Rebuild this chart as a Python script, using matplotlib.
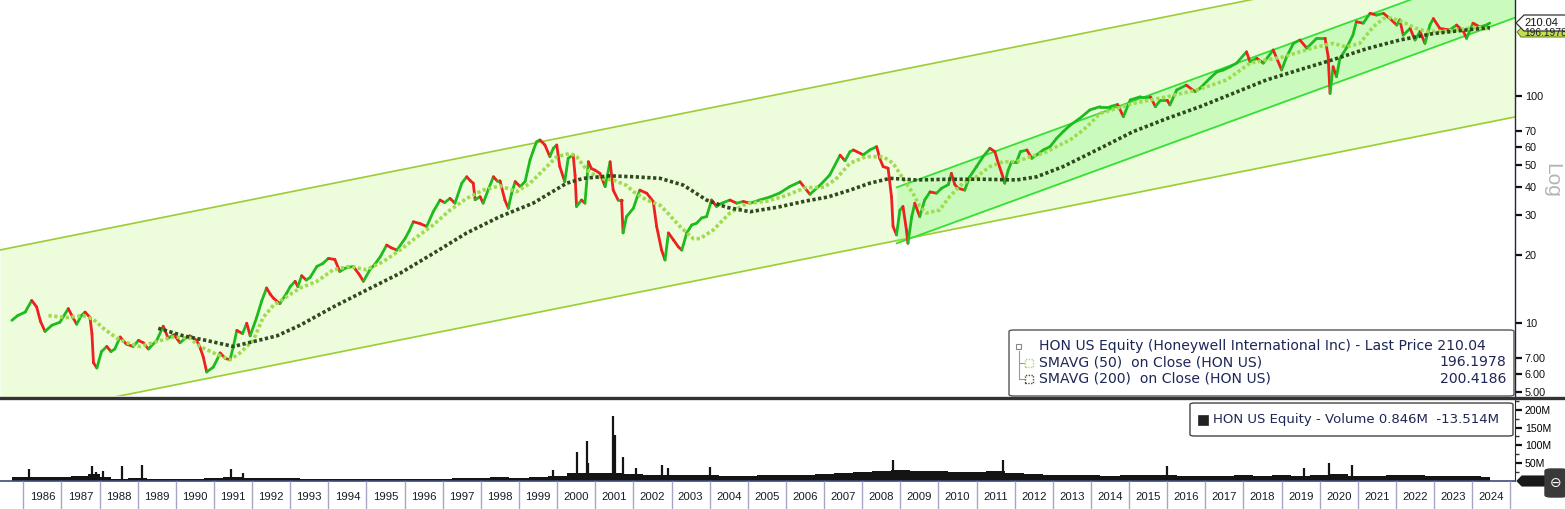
import numpy as np
import matplotlib
matplotlib.use("Agg")
import matplotlib.pyplot as plt
from matplotlib.collections import LineCollection
from matplotlib.patches import Rectangle, FancyBboxPatch, Polygon
from matplotlib.lines import Line2D
from matplotlib.ticker import FixedLocator, NullLocator

plt.rcParams['font.family'] = ['Liberation Sans', 'DejaVu Sans']

# ---------------- data ----------------
price_dates = [
    1985.70, 1985.85, 1986.05, 1986.22, 1986.35, 1986.45, 1986.57, 1986.75, 1986.96,
    1987.18, 1987.30, 1987.40, 1987.52, 1987.62, 1987.75, 1987.80, 1987.84, 1987.93,
    1988.05, 1988.19, 1988.30, 1988.40, 1988.54, 1988.70, 1988.88, 1989.02, 1989.15,
    1989.28, 1989.50, 1989.67, 1989.80, 1989.95, 1990.11, 1990.25, 1990.37, 1990.55,
    1990.65, 1990.72, 1990.81, 1990.98, 1991.08, 1991.16, 1991.30, 1991.42, 1991.51,
    1991.60, 1991.75, 1991.86, 1991.95, 1992.12, 1992.25, 1992.38, 1992.48, 1992.56,
    1992.73, 1992.91, 1993.00, 1993.13, 1993.20, 1993.30, 1993.42, 1993.52, 1993.70,
    1993.85, 1994.00, 1994.17, 1994.30, 1994.45, 1994.65, 1994.80, 1994.92, 1995.09,
    1995.22, 1995.36, 1995.53, 1995.65, 1995.80, 1996.01, 1996.12, 1996.23, 1996.40,
    1996.58, 1996.75, 1996.93, 1997.05, 1997.19, 1997.32, 1997.50, 1997.63, 1997.72,
    1997.80, 1997.85, 1997.98, 1998.06, 1998.20, 1998.33, 1998.42, 1998.50, 1998.63,
    1998.72, 1998.80, 1998.90, 1999.03, 1999.16, 1999.29, 1999.38, 1999.46, 1999.55,
    1999.68, 1999.81, 1999.90, 1999.99, 2000.07, 2000.20, 2000.29, 2000.42, 2000.47,
    2000.51, 2000.64, 2000.73, 2000.82, 2000.90, 2000.99, 2001.12, 2001.26, 2001.39,
    2001.47, 2001.60, 2001.69, 2001.73, 2001.82, 2002.00, 2002.10, 2002.17, 2002.35,
    2002.52, 2002.61, 2002.74, 2002.83, 2002.92, 2003.05, 2003.18, 2003.27, 2003.40,
    2003.53, 2003.66, 2003.79, 2003.92, 2004.05, 2004.18, 2004.32, 2004.53, 2004.71,
    2004.88, 2005.06, 2005.31, 2005.58, 2005.84, 2006.10, 2006.37, 2006.63, 2006.89,
    2007.15, 2007.42, 2007.55, 2007.68, 2007.77, 2008.03, 2008.20, 2008.38, 2008.46,
    2008.55, 2008.68, 2008.77, 2008.81, 2008.90, 2008.99, 2009.07, 2009.16, 2009.20,
    2009.30, 2009.38, 2009.51, 2009.64, 2009.78, 2009.95, 2010.08, 2010.26, 2010.34,
    2010.43, 2010.52, 2010.69, 2010.82, 2011.00, 2011.17, 2011.35, 2011.48, 2011.57,
    2011.66, 2011.74, 2011.83, 2011.92, 2012.05, 2012.15, 2012.32, 2012.45, 2012.58,
    2012.75, 2012.93, 2013.10, 2013.27, 2013.45, 2013.71, 2013.97, 2014.10, 2014.24,
    2014.50, 2014.70, 2014.85, 2015.03, 2015.30, 2015.56, 2015.69, 2015.82, 2016.00,
    2016.07, 2016.25, 2016.50, 2016.73, 2016.86, 2017.12, 2017.30, 2017.47, 2017.65,
    2017.82, 2018.08, 2018.17, 2018.35, 2018.52, 2018.78, 2019.00, 2019.13, 2019.31,
    2019.48, 2019.66, 2019.92, 2020.14, 2020.22, 2020.27, 2020.35, 2020.44, 2020.53,
    2020.70, 2020.87, 2020.96, 2021.14, 2021.32, 2021.49, 2021.67, 2021.84, 2022.02,
    2022.10, 2022.19, 2022.37, 2022.50, 2022.63, 2022.76, 2022.89, 2022.98, 2023.15,
    2023.41, 2023.59, 2023.77, 2023.85, 2024.02, 2024.20, 2024.37, 2024.46,
]
price_close = [
    10.3, 10.8, 11.2, 12.6, 11.8, 10.2, 9.2, 9.8, 10.1,
    11.6, 10.6, 9.9, 10.8, 11.2, 10.6, 9.0, 6.7, 6.35,
    7.5, 7.9, 7.5, 7.7, 8.7, 8.1, 7.9, 8.4, 8.2,
    7.7, 8.4, 9.7, 8.6, 8.9, 8.2, 8.6, 8.8, 8.4,
    7.7, 7.1, 6.1, 6.4, 6.9, 7.4, 7.0, 6.9, 7.9,
    9.3, 9.0, 10.0, 8.8, 10.6, 12.5, 14.3, 13.4, 12.9,
    12.2, 13.6, 14.5, 15.3, 14.5, 16.2, 15.5, 15.9, 17.8,
    18.3, 19.3, 19.1, 16.9, 17.5, 17.8, 16.5, 15.3, 17.2,
    18.2, 19.6, 22.1, 21.5, 21.0, 23.6, 25.5, 28.0, 27.5,
    26.7, 31.0, 34.9, 34.0, 35.5, 33.8, 41.4, 44.2, 42.5,
    41.4, 35.0, 36.1, 33.8, 39.0, 44.2, 42.5, 42.5, 34.9,
    32.1, 37.0, 42.1, 40.0, 42.1, 52.4, 58.0, 63.0, 64.2,
    61.0, 54.2, 59.0, 61.0, 49.0, 42.1, 53.3, 55.2, 45.0,
    32.7, 34.9, 33.8, 51.5, 48.0, 47.3, 45.8, 40.0, 51.5,
    38.6, 34.9, 34.9, 25.0, 29.5, 32.1, 36.0, 38.6, 37.4,
    34.4, 26.7, 21.0, 19.0, 25.0, 23.3, 21.7, 21.0, 25.0,
    27.1, 27.6, 29.1, 29.5, 34.9, 32.7, 33.8, 34.9, 33.8,
    34.4, 33.8, 34.9, 36.0, 37.5, 40.0, 42.0, 37.0, 40.5,
    45.0, 55.0, 52.0, 57.0, 58.0, 55.2, 58.0, 60.0, 53.3,
    49.0, 48.2, 36.0, 26.7, 24.5, 31.5, 32.7, 25.8, 22.5,
    29.5, 33.8, 29.5, 34.9, 37.9, 37.4, 39.3, 40.8, 45.8,
    40.8, 39.3, 38.6, 44.2, 49.0, 54.2, 59.0, 57.0, 50.7,
    45.8, 41.4, 47.3, 51.5, 51.5, 57.0, 58.0, 53.3, 55.2,
    58.0, 60.0, 65.3, 69.8, 74.5, 80.0, 87.0, 88.5, 90.0,
    90.0, 92.0, 81.3, 96.3, 99.6, 99.6, 90.0, 96.0, 96.0,
    91.6, 106.6, 112.0, 104.8, 108.5, 120.0, 128.0, 130.6, 135.0,
    140.0, 157.0, 142.0, 147.0, 140.0, 160.0, 130.6, 149.0, 171.0,
    177.0, 163.0, 180.0, 180.0, 150.0, 103.0, 135.0, 122.0, 147.0,
    163.0, 186.0, 213.0, 210.0, 232.0, 228.0, 232.0, 220.0, 206.0,
    217.0, 186.0, 199.0, 177.0, 193.0, 171.0, 206.0, 220.0, 199.0,
    196.0, 206.0, 193.0, 180.0, 210.0, 202.0, 206.0, 210.04,
]

sma50_dates = [
    1986.66, 1987.14, 1987.57, 1987.84, 1988.10, 1988.45, 1988.71, 1989.06, 1989.50,
    1989.93, 1990.37, 1990.63, 1991.07, 1991.42, 1991.68, 1992.03, 1992.29, 1992.56,
    1992.91, 1993.26, 1993.70, 1994.13, 1994.57, 1995.00, 1995.44, 1995.88, 1996.32,
    1996.75, 1997.19, 1997.63, 1998.06, 1998.50, 1998.94, 1999.29, 1999.64, 1999.99,
    2000.34, 2000.51, 2000.78, 2001.12, 2001.47, 2001.82, 2002.00, 2002.35, 2002.70,
    2002.87, 2003.22, 2003.57, 2003.75, 2004.10, 2004.53, 2004.88, 2005.06, 2005.50,
    2006.00, 2006.50, 2007.00, 2007.30, 2007.68, 2008.10, 2008.55, 2008.81, 2009.07,
    2009.33, 2009.51, 2009.69, 2010.03, 2010.29, 2010.64, 2011.00, 2011.35, 2011.70,
    2012.05, 2012.40, 2012.75, 2013.10, 2013.45, 2013.80, 2014.05, 2014.24, 2015.10,
    2016.00, 2016.78, 2017.56, 2018.17, 2018.60, 2019.04, 2019.48, 2019.92, 2020.35,
    2020.70, 2021.05, 2021.40, 2021.67, 2021.84, 2022.20, 2022.50, 2022.80, 2023.10,
    2023.50, 2023.85, 2024.20, 2024.46,
]
sma50_vals = [
    10.8, 10.6, 10.8, 10.4, 9.5, 8.6, 8.2, 7.9, 8.3,
    8.7, 8.6, 7.9, 7.3, 6.9, 7.4, 8.4, 10.6, 12.0,
    13.1, 14.3, 15.3, 17.2, 17.8, 17.2, 18.7, 21.0, 24.0,
    27.1, 31.5, 35.5, 38.6, 40.3, 38.0, 41.4, 47.3, 54.2,
    56.0, 54.2, 47.3, 43.5, 42.8, 40.5, 38.0, 34.9, 33.1,
    31.0, 26.7, 23.6, 23.6, 25.8, 30.6, 33.1, 33.8, 34.5,
    36.5, 39.5, 39.8, 43.0, 50.7, 54.2, 54.2, 50.7, 43.5,
    37.4, 32.7, 30.6, 31.5, 36.1, 41.4, 44.2, 49.0, 51.5,
    51.5, 54.2, 56.0, 60.0, 64.2, 71.0, 78.0, 84.0, 93.0,
    99.6, 106.6, 118.0, 140.0, 144.5, 149.0, 157.0, 165.0, 171.0,
    165.0, 171.0, 202.0, 220.0, 222.0, 212.0, 200.0, 193.0, 193.0,
    195.0, 199.0, 201.0, 196.2,
]

sma200_dates = [
    1989.54, 1990.20, 1990.80, 1991.51, 1992.03, 1992.65, 1993.26, 1994.13, 1995.00,
    1995.88, 1996.75, 1997.63, 1998.50, 1999.37, 2000.25, 2000.69, 2001.39, 2002.00,
    2002.70, 2003.31, 2003.92, 2004.45, 2005.06, 2005.80, 2006.50, 2007.10, 2007.68,
    2008.20, 2008.73, 2009.42, 2010.29, 2011.17, 2012.05, 2012.58, 2013.27, 2013.97,
    2014.24, 2015.10, 2016.00, 2016.86, 2017.73, 2018.60, 2019.48, 2020.35, 2021.23,
    2022.10, 2022.98, 2023.85, 2024.46,
]
sma200_vals = [
    9.5, 8.8, 8.4, 7.9, 8.3, 8.8, 9.8, 11.8, 14.0,
    16.6, 20.3, 25.0, 29.5, 33.8, 41.4, 43.5, 44.6, 44.2,
    43.5, 40.6, 34.9, 32.4, 31.0, 32.5, 34.5, 36.0, 38.6,
    41.4, 43.5, 42.8, 43.1, 43.1, 42.8, 44.2, 49.0, 56.0,
    59.0, 69.8, 79.9, 90.0, 103.0, 118.0, 131.0, 145.0, 162.0,
    177.0, 189.0, 196.0, 200.4,
]

# volume in millions: smooth base level and individual spikes
vol_dates = [
    1985.70, 1986.00, 1986.50, 1987.00, 1987.50, 1987.90, 1988.10, 1988.50, 1989.00,
    1989.50, 1990.00, 1990.50, 1991.00, 1991.50, 1992.00, 1992.50, 1993.00, 1993.50,
    1994.00, 1994.50, 1995.00, 1995.50, 1996.00, 1996.50, 1997.00, 1997.50, 1998.00,
    1998.50, 1999.00, 1999.50, 2000.00, 2000.50, 2001.00, 2001.50, 2002.00, 2002.50,
    2003.00, 2003.50, 2004.00, 2004.50, 2005.00, 2005.50, 2006.00, 2006.50, 2007.00,
    2007.50, 2008.00, 2008.50, 2009.00, 2009.50, 2010.00, 2010.50, 2011.00, 2011.50,
    2012.00, 2012.50, 2013.00, 2013.50, 2014.00, 2014.50, 2015.00, 2015.50, 2016.00,
    2016.50, 2017.00, 2017.50, 2018.00, 2018.50, 2019.00, 2019.50, 2020.00, 2020.50,
    2021.00, 2021.50, 2022.00, 2022.50, 2023.00, 2023.50, 2024.00, 2024.46,
]
vol_vals = [
    12, 12, 11, 12, 14, 20, 10, 6, 8,
    7, 6, 6, 9, 10, 9, 8, 8, 7,
    6, 5, 5, 5, 6, 6, 7, 8, 9,
    10, 8, 10, 14, 22, 22, 22, 20, 18,
    17, 16, 16, 15, 15, 16, 17, 18, 20,
    22, 26, 28, 30, 28, 27, 25, 25, 28,
    22, 20, 18, 17, 16, 15, 16, 16, 18,
    15, 14, 14, 16, 15, 16, 14, 18, 20,
    15, 14, 16, 16, 15, 14, 15, 12,
]
spike_dates = [1986.15, 1987.80, 1987.90, 1988.10, 1988.60, 1989.10, 1991.45, 1991.75,
               1999.90, 2000.51, 2000.78, 2000.82, 2001.47, 2001.51, 2001.73, 2002.08,
               2002.74, 2002.90, 2004.00, 2008.80, 2011.70, 2016.00, 2019.60, 2020.25,
               2020.84]
spike_vals = [34, 43, 26, 27, 42, 45, 34, 23,
              31, 81, 111, 51, 183, 128, 67, 37,
              44, 37, 40, 60, 60, 41, 37, 50,
              45]

# trend channels: (date, price) end points
outer_x = [1985.389, 2025.121]
outer_upper = [21.03, 455.0]
outer_lower = [3.75, 81.1]
inner_x = [2008.906, 2025.121]
inner_upper = [39.7, 392.0]
inner_lower = [22.5, 222.0]

year_edges = list(range(1986, 2026))
year_labels = [str(y) for y in range(1986, 2025)]

price_ticks = [5, 6, 7, 10, 20, 30, 40, 50, 60, 70, 100]
price_ticklabels = ['5.00', '6.00', '7.00', '10', '20', '30', '40', '50', '60', '70', '100']
vol_ticks = [50, 100, 150, 200]
vol_ticklabels = ['50M', '100M', '150M', '200M']

last_price = 210.04
sma50_last = 196.1978
sma200_last = 200.4186

# ---------------- figure ----------------
W, H = 1565, 509
fig = plt.figure(figsize=(W / 100, H / 100), dpi=100)
fig.patch.set_facecolor('white')


def prect(x0, y0, x1, y1):
    return [x0 / W, 1 - y1 / H, (x1 - x0) / W, (y1 - y0) / H]


def fx(x):
    return x / W


def fy(y):
    return 1 - y / H


XL = (1985.389, 2025.121)
ax = fig.add_axes(prect(0, 0, 1515, 396))
axv = fig.add_axes(prect(0, 399, 1515, 481))
axx = fig.add_axes(prect(0, 481, 1515, 509))

# main panel
ax.set_yscale('log')
ax.set_xlim(*XL)
ax.set_ylim(4.78, 265.6)
ax.set_facecolor('white')

ax.fill_between(outer_x, outer_lower, outer_upper, color='#EDFCDB', lw=0, zorder=1)
ax.plot(outer_x, outer_upper, color='#9ACD32', lw=1.2, zorder=2)
ax.plot(outer_x, outer_lower, color='#9ACD32', lw=1.2, zorder=2)
ax.fill_between(inner_x, inner_lower, inner_upper, color='#CBFBBC', lw=0, zorder=1.5)
ax.plot(inner_x, inner_upper, color='#35E035', lw=1.3, zorder=2)
ax.plot(inner_x, inner_lower, color='#35E035', lw=1.3, zorder=2)

pdts = np.array(price_dates)
pcl = np.array(price_close)
segs = [[(pdts[i - 1], pcl[i - 1]), (pdts[i], pcl[i])] for i in range(1, len(pdts))]
cols = ['#1DBB1D' if pcl[i] >= pcl[i - 1] else '#EE2020' for i in range(1, len(pdts))]
ax.add_collection(LineCollection(segs, colors=cols, linewidths=2.0, zorder=4,
                                 capstyle='round'))

ax.plot(sma50_dates, sma50_vals, color='#9EDC4E', lw=2.6, linestyle=(0, (0.9, 0.7)),
        zorder=5, dash_capstyle='butt')
ax.plot(sma200_dates, sma200_vals, color='#2E4A1E', lw=2.6, linestyle=(0, (0.9, 0.7)),
        zorder=5, dash_capstyle='butt')

for s in ['left', 'top', 'bottom']:
    ax.spines[s].set_visible(False)
ax.spines['right'].set_color('#20264A')
ax.spines['right'].set_linewidth(1.0)
ax.yaxis.tick_right()
ax.yaxis.set_major_locator(FixedLocator(price_ticks))
ax.set_yticklabels(price_ticklabels)
ax.yaxis.set_minor_locator(NullLocator())
ax.tick_params(axis='y', which='major', direction='out', length=5, width=1.6,
               color='#111111', labelsize=7.8, pad=2, labelcolor='#111111')
ax.set_xticks([])

# volume panel
axv.set_xlim(*XL)
axv.set_ylim(0, 230)
axv.fill_between(vol_dates, vol_vals, step='mid', color='#141414', lw=0)
axv.vlines(spike_dates, 0, spike_vals, color='#141414', lw=1.6)
for s in ['left', 'top']:
    axv.spines[s].set_visible(False)
axv.spines['right'].set_color('#20264A')
axv.spines['bottom'].set_color('#3C4C7C')
axv.spines['bottom'].set_linewidth(1.2)
axv.yaxis.tick_right()
axv.yaxis.set_major_locator(FixedLocator(vol_ticks))
axv.set_yticklabels(vol_ticklabels)
axv.yaxis.set_minor_locator(FixedLocator([25, 75, 125, 175, 225]))
axv.tick_params(axis='y', which='major', direction='out', length=5, width=1.6,
                color='#111111', labelsize=7.6, pad=2)
axv.tick_params(axis='y', which='minor', direction='out', length=3, width=1.0, color='#333333')
axv.set_xticks([])

# year axis
axx.set_xlim(*XL)
axx.set_ylim(0, 1)
axx.axis('off')
axx.vlines(year_edges, 0, 1, color='#A6A6C4', lw=1.0)
for i, lab in enumerate(year_labels):
    axx.text(year_edges[i] + 0.5, 0.44, lab, ha='center', va='center',
             fontsize=8.2, color='#1A1A2A')

# panel separator
fig.add_artist(Line2D([0, 1], [fy(397.5), fy(397.5)], transform=fig.transFigure,
                      color='#333333', lw=2.4))

# "Log" label
fig.text(fx(1552), fy(180), 'Log', rotation=270, ha='center', va='center',
         fontsize=15, color='#B4B4B4')

# last price tag
tag2 = Polygon([[fx(1517), fy(32)], [fx(1521), fy(28)], [fx(1566), fy(28)],
                [fx(1566), fy(37)], [fx(1521), fy(37)]], closed=True,
               transform=fig.transFigure, facecolor='#C2DC55', edgecolor='#6E8A20', lw=0.8)
fig.add_artist(tag2)
fig.text(fx(1524), fy(33.5), '196.1978', fontsize=7.4, color='#222222', va='center', ha='left')
tag1 = Polygon([[fx(1516), fy(23)], [fx(1524), fy(15)], [fx(1566), fy(15)],
                [fx(1566), fy(31)], [fx(1524), fy(31)]], closed=True,
               transform=fig.transFigure, facecolor='white', edgecolor='#333333', lw=0.9)
fig.add_artist(tag1)
fig.text(fx(1524), fy(23), f'{last_price:.2f}', fontsize=8.0, color='#111111', va='center', ha='left')

# volume last tag
tag3 = Polygon([[fx(1517), fy(481)], [fx(1522), fy(476)], [fx(1566), fy(476)],
                [fx(1566), fy(486)], [fx(1522), fy(486)]], closed=True,
               transform=fig.transFigure, facecolor='#1A1A1A', edgecolor='#1A1A1A', lw=0.8)
fig.add_artist(tag3)

# corner button
btn = FancyBboxPatch((fx(1545), fy(497)), fx(22), (497 - 469) / H,
                     boxstyle='round,pad=0,rounding_size=0.004', transform=fig.transFigure,
                     facecolor='#3A3A3A', edgecolor='#3A3A3A')
fig.add_artist(btn)
fig.text(fx(1556), fy(483), '\u2296', fontsize=10, color='white', ha='center', va='center',
         family=['DejaVu Sans'])

# main legend box
leg = FancyBboxPatch((fx(1009), fy(396)), fx(1514 - 1009), (396 - 330) / H,
                     boxstyle='round,pad=0,rounding_size=0.003', transform=fig.transFigure,
                     facecolor='white', edgecolor='#555555', lw=1.0, zorder=10)
fig.add_artist(leg)
lfs = 10.1
lcol = '#1E2656'
fig.text(fx(1039), fy(346), f'HON US Equity (Honeywell International Inc) - Last Price {last_price:.2f}',
         fontsize=lfs, color=lcol, va='center', ha='left', family=['DejaVu Sans'], zorder=11)
fig.text(fx(1039), fy(362.5), 'SMAVG (50)  on Close (HON US)', fontsize=lfs, color=lcol,
         va='center', ha='left', family=['DejaVu Sans'], zorder=11)
fig.text(fx(1039), fy(379), 'SMAVG (200)  on Close (HON US)', fontsize=lfs, color=lcol,
         va='center', ha='left', family=['DejaVu Sans'], zorder=11)
fig.text(fx(1506), fy(362.5), f'{sma50_last:.4f}', fontsize=lfs, color=lcol,
         va='center', ha='right', family=['DejaVu Sans'], zorder=11)
fig.text(fx(1506), fy(379), f'{sma200_last:.4f}', fontsize=lfs, color=lcol,
         va='center', ha='right', family=['DejaVu Sans'], zorder=11)
# legend tree icons
fig.add_artist(Rectangle((fx(1016), fy(348.5)), fx(5), 5 / H, transform=fig.transFigure,
                         facecolor='white', edgecolor='#888888', lw=0.8, zorder=12))
fig.add_artist(Line2D([fx(1018.5), fx(1018.5)], [fy(351), fy(379)], transform=fig.transFigure,
                      color='#9A9A9A', lw=0.8, zorder=12))
for yy in (362.5, 379):
    fig.add_artist(Line2D([fx(1018.5), fx(1024)], [fy(yy), fy(yy)], transform=fig.transFigure,
                          color='#9A9A9A', lw=0.8, zorder=12))
fig.add_artist(Rectangle((fx(1025), fy(366.5)), fx(8), 8 / H, transform=fig.transFigure,
                         facecolor='none', edgecolor='#A8DC60', lw=1.0, ls=(0, (1, 1)), zorder=12))
fig.add_artist(Rectangle((fx(1025), fy(383)), fx(8), 8 / H, transform=fig.transFigure,
                         facecolor='none', edgecolor='#44552A', lw=1.0, ls=(0, (1, 1)), zorder=12))

# volume legend box
vleg = FancyBboxPatch((fx(1190), fy(436)), fx(1513 - 1190), (436 - 403) / H,
                      boxstyle='round,pad=0,rounding_size=0.003', transform=fig.transFigure,
                      facecolor='white', edgecolor='#444444', lw=1.0, zorder=10)
fig.add_artist(vleg)
fig.add_artist(Rectangle((fx(1198), fy(425)), fx(10), 10 / H, transform=fig.transFigure,
                         facecolor='#222222', edgecolor='#222222', lw=0.5, zorder=12))
fig.text(fx(1213), fy(420), 'HON US Equity - Volume 0.846M  -13.514M', fontsize=9.5, color=lcol,
         va='center', ha='left', family=['DejaVu Sans'], zorder=11)

fig.savefig('out.png', dpi=100, facecolor='white')
